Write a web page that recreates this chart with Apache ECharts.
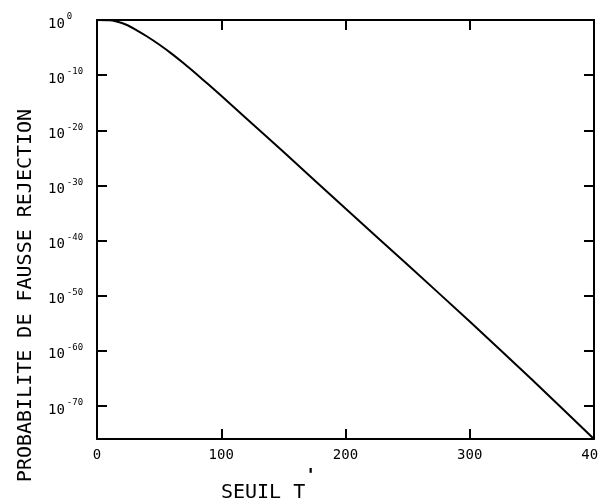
<!DOCTYPE html>
<html>
<head>
<meta charset="utf-8">
<script src="https://cdn.jsdelivr.net/npm/echarts@6/dist/echarts.min.js"></script>
<style>html,body{margin:0;padding:0;background:#fff;}#c{width:599px;height:502px;}</style>
</head>
<body>
<div id="c"></div>
<script>
// Threshold T' values
var thresholds = [0, 10, 15, 20, 25, 30, 40, 50, 60, 70, 80, 90, 100, 120, 150, 200, 250, 300, 350, 400];
// log10 of false rejection probability
var log10Prob = [0, -0.05, -0.22, -0.55, -1.0, -1.6, -2.95, -4.45, -6.1, -7.9, -9.8, -11.75, -13.75, -17.8, -23.9, -34.2, -44.4, -54.7, -65.2, -76.0];
var xTicks = [0, 100, 200, 300, 400];
var yExponents = [0, -10, -20, -30, -40, -50, -60, -70];

var FONT = 'DejaVu Sans Mono';
var data = thresholds.map(function (t, i) { return [t, log10Prob[i]]; });

var chart = echarts.init(document.getElementById('c'));
var axisLineStyle = { color: '#000', width: 2 };
var tickStyle = { color: '#000', width: 2 };
chart.setOption({
  animation: false,
  backgroundColor: '#fff',
  grid: { left: 97, top: 20, right: 5, bottom: 63, outerBoundsMode: 'none', containLabel: false },
  xAxis: [{
    type: 'value', min: 0, max: 400, interval: 100,
    name: "SEUIL T{p|'}", nameLocation: 'middle', nameGap: 24,
    nameTextStyle: { fontFamily: FONT, fontSize: 20, color: '#000', padding: [0, 154, 0, 0],
      rich: { p: { fontFamily: FONT, fontSize: 18, fontWeight: 'bold', color: '#000', padding: [0, 0, 34, 0] } } },
    axisLine: { show: true, onZero: false, lineStyle: axisLineStyle },
    axisTick: { show: true, inside: true, length: 10, lineStyle: tickStyle, customValues: xTicks },
    axisLabel: { fontFamily: FONT, fontSize: 14, color: '#000', margin: 9, customValues: xTicks },
    splitLine: { show: false }
  }, {
    type: 'value', position: 'top', min: 0, max: 400, interval: 100,
    axisLine: { show: true, onZero: false, lineStyle: axisLineStyle },
    axisTick: { show: true, inside: true, length: 10, lineStyle: tickStyle, customValues: [100, 200, 300] },
    axisLabel: { show: false }, splitLine: { show: false }
  }],
  yAxis: [{
    type: 'value', min: -76, max: 0,
    name: 'PROBABILITE DE FAUSSE REJECTION', nameLocation: 'middle', nameGap: 61,
    nameTextStyle: { fontFamily: FONT, fontSize: 20, color: '#000', padding: [0, 132, 0, 0] },
    axisLine: { show: true, onZero: false, lineStyle: axisLineStyle },
    axisTick: { show: true, inside: true, length: 10, lineStyle: tickStyle, customValues: yExponents },
    axisLabel: {
      align: 'left', margin: 49, color: '#000', customValues: yExponents,
      formatter: function (v) { return '{b|10}{e|' + v + '}'; },
      rich: {
        b: { fontFamily: FONT, fontSize: 14, color: '#000', padding: [8, 0, 0, 0] },
        e: { fontFamily: FONT, fontSize: 9, color: '#000', padding: [0, 0, 6, 2] }
      }
    },
    splitLine: { show: false }
  }, {
    type: 'value', position: 'right', min: -76, max: 0,
    axisLine: { show: true, onZero: false, lineStyle: axisLineStyle },
    axisTick: { show: true, inside: true, length: 10, lineStyle: tickStyle, customValues: [-10, -20, -30, -40, -50, -60, -70] },
    axisLabel: { show: false }, splitLine: { show: false }
  }],
  series: [{
    type: 'line', data: data, smooth: 0.3, showSymbol: false,
    lineStyle: { color: '#000', width: 2 }, clip: true
  }]
});
</script>
</body>
</html>
